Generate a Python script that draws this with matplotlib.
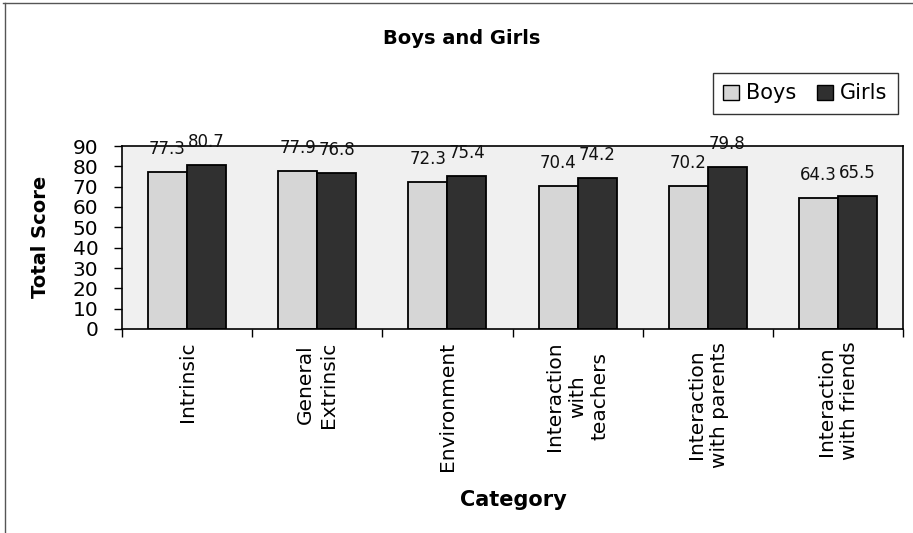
import matplotlib
matplotlib.use("Agg")
import matplotlib.pyplot as plt
import numpy as np
from matplotlib.patches import Patch
from matplotlib.lines import Line2D

categories = ["Intrinsic", "General\nExtrinsic", "Environment",
              "Interaction\nwith\nteachers", "Interaction\nwith parents",
              "Interaction\nwith friends"]
boys = [77.3, 77.9, 72.3, 70.4, 70.2, 64.3]
girls = [80.7, 76.8, 75.4, 74.2, 79.8, 65.5]
yticks = [0, 10, 20, 30, 40, 50, 60, 70, 80, 90]

W, H = 913, 533
fig = plt.figure(figsize=(W / 100, H / 100), dpi=100)
plt.rcParams['font.family'] = ['DejaVu Sans']

ax = fig.add_axes([122 / W, 1 - 329 / H, (903 - 122) / W, (329 - 146) / H])
ax.set_facecolor('#f0f0f0')

boys_color = '#d6d6d6'
girls_color = '#303030'

x = np.arange(len(categories))
bw = 0.3
b1 = ax.bar(x - bw / 2, boys, bw, color=boys_color, edgecolor='black', linewidth=1.3, label='Boys')
b2 = ax.bar(x + bw / 2, girls, bw, color=girls_color, edgecolor='black', linewidth=1.3, label='Girls')

for bars, vals in ((b1, boys), (b2, girls)):
    for r, v in zip(bars, vals):
        ax.annotate(f"{v:.1f}", (r.get_x() + r.get_width() / 2, v), xytext=(0, 10),
                    textcoords='offset points', ha='center', va='bottom', fontsize=12,
                    color='#111111', annotation_clip=False)

ax.set_xlim(-0.5, len(categories) - 0.5)
ax.set_ylim(0, 90)
ax.set_yticks(yticks)
ax.set_yticklabels([str(t) for t in yticks], fontsize=14.5)
ax.tick_params(axis='y', direction='out', length=6, width=1, pad=11)

ax.set_xticks(np.arange(-0.5, len(categories), 1.0))
ax.set_xticklabels([])
ax.tick_params(axis='x', direction='out', length=6, width=1)
ax.set_xticks(x, minor=True)
ax.set_xticklabels(categories, minor=True, rotation=90, fontsize=14.5,
                   ha='center', va='top', multialignment='center', linespacing=1.25)
ax.tick_params(axis='x', which='minor', length=0, pad=9)

for s in ax.spines.values():
    s.set_color('black')
    s.set_linewidth(1.2)

fig.text(462 / W, 1 - 38 / H, "Boys and Girls", ha='center', va='center',
         fontsize=14, fontweight='bold')
fig.text(41 / W, 1 - 237 / H, "Total Score", ha='center', va='center',
         rotation=90, fontsize=14, fontweight='bold')
fig.text(513 / W, 1 - 500 / H, "Category", ha='center', va='center',
         fontsize=15, fontweight='bold')

handles = [Patch(facecolor=boys_color, edgecolor='black', linewidth=1),
           Patch(facecolor=girls_color, edgecolor='black', linewidth=1)]
leg = fig.legend(handles, ['Boys', 'Girls'], loc='upper right',
                 bbox_to_anchor=(898 / W, 1 - 73 / H), ncol=2, fontsize=15,
                 frameon=True, fancybox=False, shadow=False, borderaxespad=0,
                 handlelength=0.75, handleheight=0.75, handletextpad=0.35,
                 columnspacing=1.0, borderpad=0.5)
leg.get_frame().set_edgecolor('black')
leg.get_frame().set_linewidth(1.0)

# outer figure frame (top and left edges)
fig.add_artist(Line2D([3 / W, 1], [1 - 3 / H, 1 - 3 / H], transform=fig.transFigure,
                      color='#555555', linewidth=1))
fig.add_artist(Line2D([5 / W, 5 / W], [0, 1 - 3 / H], transform=fig.transFigure,
                      color='#555555', linewidth=1))

fig.savefig("out.png", dpi=100)
